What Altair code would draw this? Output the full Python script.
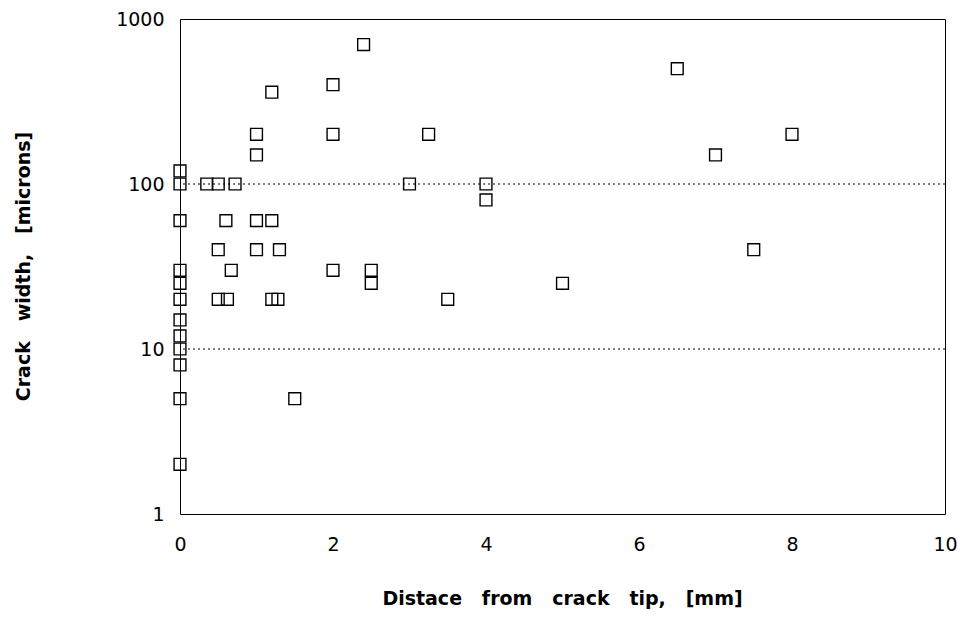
import altair as alt
import pandas as pd

# Distance from crack tip [mm]
distance = [0, 0, 0, 0, 0, 0, 0, 0, 0, 0, 0, 0,
            0.35, 0.5, 0.72,
            0.6, 1.0, 1.2,
            0.5, 1.0, 1.3,
            0.67,
            0.5, 0.62, 1.2, 1.28,
            1.5,
            2.4, 2.0, 1.2, 1.0, 2.0, 3.25, 1.0,
            3.0, 4.0, 4.0,
            2.0, 2.5, 2.5, 3.5, 5.0,
            6.5, 8.0, 7.0, 7.5]
# Crack width [microns]
width = [120, 100, 60, 30, 25, 20, 15, 12, 10, 8, 5, 2,
         100, 100, 100,
         60, 60, 60,
         40, 40, 40,
         30,
         20, 20, 20, 20,
         5,
         700, 400, 360, 200, 200, 200, 150,
         100, 100, 80,
         30, 30, 25, 20, 25,
         500, 200, 150, 40]

x_ticks = [0, 2, 4, 6, 8, 10]
y_ticks = [1, 10, 100, 1000]
grid_values = [10, 100]

df = pd.DataFrame({"d": distance, "w": width})
gdf = pd.DataFrame({"g": grid_values})

LABEL_FONT = "DejaVu Sans"
TITLE_FONT = "DejaVu Sans"
SP = "\u00a0\u00a0 "

yscale = alt.Scale(type="log", domain=[1, 1000], nice=False)
yaxis = alt.Axis(values=y_ticks, format="d", title=f"Crack{SP}width,{SP}[microns]",
                 grid=False, domain=False, ticks=False, labelPadding=16,
                 labelFlush=False, labelFontSize=19, labelFont=LABEL_FONT,
                 labelColor="black", labelBaseline="middle",
                 titleFont=TITLE_FONT, titleFontSize=19, titleFontWeight="bold",
                 titleColor="black", titleX=-157, titleY=247, titleAngle=-90,
                 titleBaseline="middle", titleAlign="center")

points = alt.Chart(df).mark_point(
    shape="square", size=140, filled=False, color="black", strokeWidth=1.4, opacity=1
).encode(
    x=alt.X("d:Q", scale=alt.Scale(domain=[0, 10], nice=False),
            axis=alt.Axis(values=x_ticks, title=f"Distace{SP}from{SP}crack{SP}tip,{SP}[mm]",
                          grid=False, domain=False, ticks=False, labelPadding=30,
                          labelFlush=False, labelFontSize=19, labelFont=LABEL_FONT,
                          labelColor="black", labelBaseline="middle",
                          titleFont=TITLE_FONT, titleFontSize=19, titleFontWeight="bold",
                          titleColor="black", titleX=382, titleY=84, titleBaseline="middle")),
    y=alt.Y("w:Q", scale=yscale, axis=yaxis),
)

grid = alt.Chart(gdf).mark_rule(
    color="black", strokeDash=[2, 3], strokeWidth=1
).encode(
    y=alt.Y("g:Q", scale=yscale, axis=yaxis)
)

chart = alt.layer(grid, points).properties(
    width=765, height=495,
    background="white",
    autosize=alt.AutoSizeParams(type="none"),
    padding={"left": 180, "top": 19, "right": 18, "bottom": 105},
).configure_view(
    stroke="black", strokeWidth=1
)

chart.save("out.html", embed_options={"renderer": "svg", "actions": False})
